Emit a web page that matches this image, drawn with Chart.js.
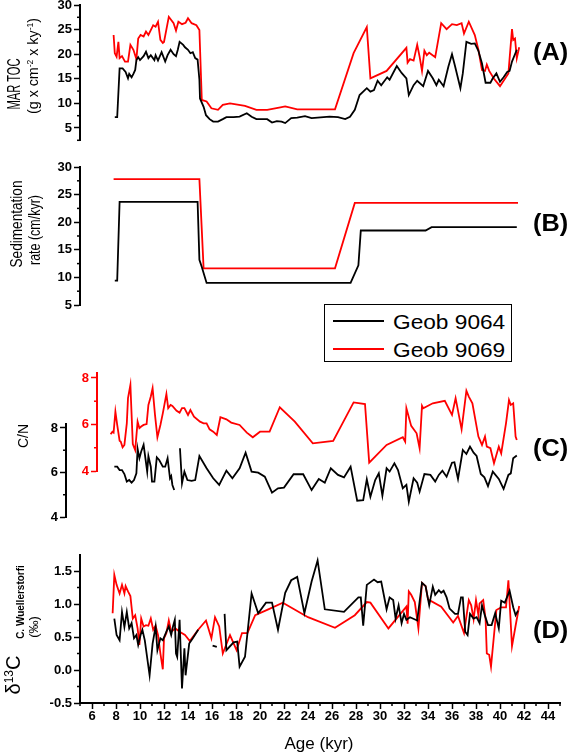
<!DOCTYPE html>
<html>
<head>
<meta charset="utf-8">
<script src="https://cdn.jsdelivr.net/npm/chart.js@4.4.0/dist/chart.umd.min.js"></script>
<style>
body { margin: 0; background: #fff; }
#page { position: relative; width: 567px; height: 752px; overflow: hidden; background: #fff;
        font-family: "Liberation Sans", Arial, sans-serif; color: #000; }
#page canvas { position: absolute; left: 0; top: -30px; }
.vt { position: absolute; white-space: nowrap; line-height: 1;
      transform: translate(-50%, -50%) rotate(-90deg) scaleX(var(--s, 1)); }
.sup { font-size: 0.6em; position: relative; top: -0.6em; }
.tag { position: absolute; font-weight: bold; font-size: 23px; line-height: 1; white-space: nowrap;
       transform: translateY(-50%) scaleX(1.1); transform-origin: left center; }
#legend { position: absolute; left: 324px; top: 304px; width: 188px; height: 58px;
          box-sizing: border-box; border: 1px solid #000; background: #fff; }
.lline { position: absolute; left: 8px; width: 51px; height: 2px; }
.ltext { position: absolute; left: 68px; font-size: 21px; line-height: 1; white-space: nowrap;
         transform: translateY(-50%) scaleX(1.08); transform-origin: left center; }
</style>
</head>
<body>
<div id="page">
  <canvas id="panelA" width="567" height="812"></canvas>
  <canvas id="panelB" width="567" height="812"></canvas>
  <canvas id="panelCblack" width="567" height="812"></canvas>
  <canvas id="panelCred" width="567" height="812"></canvas>
  <canvas id="panelD" width="567" height="812"></canvas>

  <!-- axis titles -->
  <div class="vt" style="left:14px;top:84px;font-size:18px;--s:0.62">MAR TOC</div>
  <div class="vt" style="left:32px;top:66px;font-size:15px;--s:0.95">(g x cm<span class="sup">-2</span> x ky<span class="sup">-1</span>)</div>
  <div class="vt" style="left:16px;top:224px;font-size:17px;--s:0.8">Sedimentation</div>
  <div class="vt" style="left:35px;top:230px;font-size:16px;--s:0.78">rate (cm/kyr)</div>
  <div class="vt" style="left:22px;top:436px;font-size:15px;--s:0.93">C/N</div>
  <div class="vt" style="left:13px;top:675px;font-size:20px">&delta;<span class="sup">13</span>C</div>
  <div class="vt" style="left:21px;top:602px;font-size:10px;font-weight:bold">C. Wuellerstorfi</div>
  <div class="vt" style="left:33px;top:627px;font-size:13px">(&permil;)</div>
  <div style="position:absolute;left:319px;top:743px;font-size:17px;line-height:1;white-space:nowrap;transform:translate(-50%,-50%)">Age (kyr)</div>

  <!-- panel tags -->
  <div class="tag" style="left:533px;top:52px">(A)</div>
  <div class="tag" style="left:533px;top:223px">(B)</div>
  <div class="tag" style="left:533px;top:448px">(C)</div>
  <div class="tag" style="left:533px;top:630px">(D)</div>

  <div id="legend">
    <div class="lline" style="top:15px;background:#000"></div>
    <div class="ltext" style="top:16px">Geob 9064</div>
    <div class="lline" style="top:43px;background:#ff0000"></div>
    <div class="ltext" style="top:44px">Geob 9069</div>
  </div>
</div>

<script>
// age axis (kyr), shared by all panels
var ageMin = 5, ageMax = 45;
var ageTicks = [6, 8, 10, 12, 14, 16, 18, 20, 22, 24, 26, 28, 30, 32, 34, 36, 38, 40, 42, 44];
var ageMinor = [5, 7, 9, 11, 13, 15, 17, 19, 21, 23, 25, 27, 29, 31, 33, 35, 37, 39, 41, 43, 45];

var tocTicks = [5, 10, 15, 20, 25, 30];
var tocMinor = [2.5, 7.5, 12.5, 17.5, 22.5, 27.5];
var sedTicks = [5, 10, 15, 20, 25, 30];
var sedMinor = [7.5, 12.5, 17.5, 22.5, 27.5];
var cnTicks = [4, 6, 8];
var cnMinor = [5, 7];
var d13cTicks = [-0.5, 0, 0.5, 1, 1.5];
var d13cMinor = [-0.25, 0.25, 0.75, 1.25];

// series: [age, value]; null value = gap in the record
var tocBlack = [[7.9,7.2],[8.1,7.2],[8.3,17.1],[8.55,17.1],[8.8,16.4],[9.0,15.1],[9.1,16.0],[9.3,15.3],[9.45,16.0],[9.6,16.8],[9.7,18.8],[9.85,19.4],[10.0,18.8],[10.3,19.6],[10.5,20.5],[10.7,19.2],[10.9,19.8],[11.2,18.8],[11.3,19.8],[11.5,18.7],[11.8,20.4],[12.1,18.5],[12.3,19.8],[12.55,20.9],[12.8,20.0],[13.0,19.6],[13.15,20.9],[13.3,22.5],[13.6,21.9],[13.75,21.4],[14.0,20.9],[14.2,20.2],[14.4,20.4],[14.6,19.2],[14.8,18.9],[14.95,14.8],[15.0,11.0],[15.3,9.3],[15.5,7.6],[15.8,6.8],[16.1,6.3],[16.5,6.3],[16.9,6.8],[17.2,7.2],[17.8,7.2],[18.3,7.3],[18.9,8.0],[19.3,7.3],[19.7,6.8],[20.6,6.8],[21.0,6.1],[21.4,6.4],[21.8,6.3],[22.1,6.0],[22.6,7.0],[23.1,7.1],[23.75,7.4],[24.3,7.0],[25.8,7.3],[26.5,7.2],[27.1,6.8],[27.5,7.3],[27.9,8.7],[28.3,11.7],[28.6,12.4],[28.9,13.1],[29.2,12.4],[29.5,12.7],[29.8,14.6],[30.1,13.7],[30.6,15.3],[30.8,14.8],[31.4,17.6],[31.8,16.2],[32.2,15.1],[32.4,11.7],[32.8,13.7],[33.1,14.6],[33.6,13.5],[34.0,16.6],[34.4,15.1],[34.7,13.7],[34.9,14.8],[35.3,13.5],[35.7,17.5],[36.0,20.0],[36.25,17.6],[36.7,13.1],[36.9,16.1],[37.2,22.5],[37.6,22.1],[37.9,22.2],[38.2,20.7],[38.5,18.1],[38.8,14.2],[39.2,14.2],[39.4,15.1],[39.7,16.1],[40.0,14.4],[40.3,15.3],[40.6,16.4],[40.8,16.6],[41.0,18.5],[41.4,20.9]];
var tocRed = [[7.8,23.9],[7.9,20.2],[8.05,19.5],[8.2,22.5],[8.3,19.2],[8.5,19.6],[8.75,18.5],[9.0,18.5],[9.2,21.9],[9.45,20.9],[9.7,19.0],[9.85,23.2],[10.05,23.9],[10.3,23.6],[10.5,24.6],[10.7,23.9],[10.9,24.9],[11.1,25.9],[11.3,25.6],[11.5,26.6],[11.7,22.9],[11.9,22.3],[12.0,22.5],[12.4,27.6],[12.8,26.3],[13.0,24.8],[13.2,26.6],[13.5,26.1],[13.8,26.4],[14.0,27.3],[14.3,26.3],[14.7,25.9],[14.95,24.9],[15.15,10.7],[15.55,10.4],[15.95,9.0],[16.5,8.7],[16.9,9.7],[17.5,10.0],[18.75,9.5],[19.7,8.7],[20.6,8.7],[21.7,9.2],[22.1,9.4],[23.1,8.8],[26.25,8.8],[27.8,20.2],[28.9,25.5],[29.2,15.1],[30.55,16.6],[32.2,21.3],[32.3,18.3],[32.5,19.0],[32.8,18.7],[33.1,21.9],[33.3,19.5],[33.5,16.6],[33.7,20.7],[33.9,19.8],[34.1,20.3],[34.6,19.4],[35.1,26.3],[35.55,25.1],[36.0,26.1],[36.4,25.9],[36.8,26.3],[37.0,24.2],[37.4,26.6],[37.9,23.9],[38.2,20.9],[38.5,16.8],[38.75,16.6],[38.9,17.9],[39.1,16.6],[39.5,15.0],[40.0,13.5],[40.7,16.1],[41.0,25.1],[41.1,22.9],[41.25,23.2],[41.4,19.2],[41.6,21.4]];

var sedBlack = [[7.9,9.4],[8.1,9.4],[8.3,23.7],[14.8,23.7],[14.95,13.2],[15.15,11.9],[15.55,9.0],[27.55,9.0],[28.2,12.2],[28.4,18.5],[33.8,18.5],[34.3,19.1],[41.4,19.1]];
var sedRed = [[7.8,27.8],[14.95,27.8],[15.3,11.65],[26.25,11.65],[27.9,23.5],[41.5,23.5]];

var cnBlack = [[7.86,6.26],[8.1,6.26],[8.3,6.11],[8.5,6.11],[8.7,5.93],[8.9,5.59],[9.1,5.66],[9.3,5.54],[9.5,5.66],[9.7,5.96],[9.8,7.06],[9.95,6.64],[10.1,6.94],[10.3,7.24],[10.6,6.04],[10.7,6.74],[10.9,6.26],[11.0,5.59],[11.2,5.59],[11.4,6.68],[11.6,6.56],[11.9,6.26],[12.1,6.26],[12.3,6.64],[12.5,5.74],[12.6,5.84],[12.7,5.44],[12.85,5.21],[13.1,null],[13.33,7.09],[13.5,5.51],[13.7,6.04],[13.95,5.66],[14.3,5.62],[14.6,5.66],[14.95,6.74],[15.55,6.19],[16.1,5.74],[16.6,5.44],[17.2,6.08],[17.7,5.74],[18.3,6.19],[18.8,6.89],[19.3,6.04],[19.85,5.99],[20.4,5.81],[21.0,5.09],[21.5,5.29],[22.0,5.32],[22.8,5.92],[23.6,5.92],[24.3,5.21],[24.9,5.71],[25.4,5.54],[25.9,6.19],[26.5,5.89],[27.0,5.78],[27.55,6.26],[28.1,4.73],[28.6,4.76],[28.9,5.69],[29.2,4.91],[29.6,5.66],[29.9,5.96],[30.2,4.96],[30.55,6.19],[30.8,6.04],[31.2,6.41],[31.5,6.11],[31.9,5.29],[32.2,5.44],[32.4,4.69],[32.8,5.74],[33.1,5.54],[33.3,5.14],[33.7,5.93],[34.2,5.89],[34.6,5.59],[34.9,5.89],[35.2,6.08],[35.55,5.81],[36.0,6.44],[36.2,6.46],[36.5,5.71],[36.9,7.01],[37.2,6.83],[37.5,7.16],[37.8,6.89],[38.05,6.74],[38.4,5.93],[38.7,5.78],[39.0,5.39],[39.4,6.04],[39.9,5.71],[40.3,5.26],[40.7,5.89],[40.9,5.96],[41.1,6.64],[41.4,6.76]];
var cnRed = [[7.55,5.58],[7.7,5.69],[7.8,5.65],[7.95,6.55],[8.1,5.98],[8.3,5.30],[8.4,5.26],[8.55,5.02],[8.7,5.12],[8.9,6.05],[9.0,7.13],[9.2,7.70],[9.25,7.05],[9.4,5.16],[9.6,4.90],[9.8,6.12],[9.95,5.84],[10.1,5.91],[10.3,5.98],[10.55,6.02],[10.7,6.84],[10.9,7.20],[11.05,7.56],[11.25,6.41],[11.45,5.45],[11.7,5.98],[11.9,6.48],[12.2,7.31],[12.35,6.70],[12.55,6.84],[12.7,6.80],[13.05,6.59],[13.3,6.51],[13.5,6.70],[13.7,6.70],[14.0,6.41],[14.2,6.62],[14.5,6.34],[15.0,6.12],[15.3,6.05],[15.55,6.05],[15.8,5.79],[16.1,5.69],[16.4,5.55],[16.7,6.31],[17.2,6.22],[17.6,6.08],[18.3,5.98],[18.9,5.65],[19.4,5.45],[20.0,5.69],[20.8,5.69],[21.65,6.74],[22.9,6.12],[24.4,5.19],[26.1,5.29],[27.8,6.95],[28.75,6.88],[29.1,4.36],[30.55,5.12],[31.9,5.45],[32.1,5.26],[32.2,6.70],[32.6,5.94],[33.05,5.62],[33.3,4.98],[33.5,6.80],[33.6,6.70],[34.4,6.91],[35.4,7.02],[36.0,6.41],[36.3,7.13],[36.8,5.79],[37.2,7.45],[37.4,7.20],[37.7,6.91],[38.2,5.48],[38.5,5.12],[38.75,5.48],[38.9,5.05],[39.2,4.98],[39.5,4.33],[39.9,5.05],[40.1,4.76],[40.5,6.05],[40.75,7.05],[40.9,6.84],[41.1,6.91],[41.3,5.48],[41.4,5.33]];

var d13cBlack = [[7.86,0.78],[8.05,0.53],[8.3,0.45],[8.5,0.88],[8.7,0.65],[8.9,0.88],[9.1,0.63],[9.3,0.71],[9.5,0.48],[9.7,0.53],[9.85,0.38],[10.05,0.53],[10.2,0.61],[10.4,0.45],[10.8,-0.08],[11.05,0.40],[11.3,0.66],[11.45,0.30],[11.7,0.48],[11.9,0.45],[12.2,0.58],[12.4,0.66],[12.6,0.53],[12.75,0.66],[12.9,0.76],[13.0,0.25],[13.1,0.20],[13.3,0.76],[13.5,-0.28],[13.7,0.33],[13.8,-0.08],[14.1,0.40],[14.4,0.48],[14.85,0.61],[15.5,null],[16.05,0.37],[16.4,0.35],[16.7,null],[17.05,0.85],[17.2,0.30],[17.8,0.42],[18.1,0.43],[18.3,0.05],[18.75,0.20],[19.3,1.16],[19.85,0.86],[20.5,1.02],[21.0,1.02],[21.5,0.61],[22.1,1.17],[22.6,1.36],[23.1,1.41],[23.7,0.86],[24.3,1.34],[24.8,1.66],[25.4,0.92],[27.0,0.88],[28.2,1.10],[28.4,1.10],[28.6,0.67],[28.9,1.29],[29.5,1.37],[29.8,1.33],[30.1,1.34],[30.55,0.92],[30.8,1.10],[31.1,1.06],[31.3,0.78],[31.55,0.98],[31.8,0.71],[32.0,0.85],[32.2,0.76],[32.5,0.80],[33.1,0.75],[33.5,1.32],[33.8,1.27],[34.1,0.98],[34.4,1.26],[34.6,1.14],[34.9,1.21],[35.1,1.17],[35.3,1.20],[35.55,1.10],[35.8,0.93],[36.25,0.85],[36.5,0.85],[36.75,1.10],[36.9,1.10],[37.1,0.58],[37.3,0.53],[37.5,0.85],[37.8,0.78],[38.05,0.80],[38.3,0.71],[38.5,0.98],[38.75,0.82],[39.0,0.68],[39.3,0.68],[39.6,0.86],[39.9,0.63],[40.1,1.05],[40.4,1.02],[40.8,1.20],[41.1,0.95],[41.3,0.83],[41.5,0.90]];
var d13cRed = [[7.72,0.86],[7.86,1.44],[8.05,1.29],[8.3,1.16],[8.5,1.29],[8.7,1.16],[8.8,1.27],[9.0,1.19],[9.2,1.12],[9.4,0.78],[9.6,0.83],[9.8,0.63],[9.95,0.38],[10.1,0.78],[10.3,0.66],[10.5,0.68],[10.7,0.67],[10.9,0.78],[11.1,0.61],[11.3,0.67],[11.5,0.53],[11.7,0.25],[11.9,0.01],[12.0,0.48],[12.2,0.56],[12.4,0.75],[12.6,0.58],[12.95,0.63],[13.3,0.58],[13.75,0.53],[14.15,0.44],[14.85,0.61],[15.5,0.75],[15.95,0.48],[16.25,0.80],[16.6,0.66],[16.9,0.25],[17.5,0.53],[18.05,0.30],[18.5,0.56],[18.95,0.56],[19.6,0.83],[20.6,0.91],[21.9,1.02],[24.0,0.80],[26.25,0.64],[27.9,0.83],[28.9,1.03],[29.2,1.02],[30.7,0.63],[32.2,0.96],[32.3,0.70],[32.4,1.19],[32.6,1.14],[32.9,1.03],[33.2,0.63],[33.5,1.32],[33.8,1.27],[34.0,1.07],[35.1,0.96],[36.1,0.72],[36.5,0.82],[37.0,0.56],[37.4,1.06],[37.6,0.98],[37.8,0.77],[38.0,1.06],[38.2,0.83],[38.3,1.01],[38.6,1.06],[38.8,0.77],[38.9,0.25],[39.1,0.23],[39.25,0.05],[39.7,0.91],[40.1,0.95],[40.5,0.95],[40.7,1.36],[41.0,0.36],[41.3,0.67],[41.6,0.97]];

var BLACK = '#000000', RED = '#ff0000';
var OFF = 30;                 // canvases start 30px above the page
var CANVAS_H = 752 + 2 * OFF;
var PX_PER_KYR = 12;
var PLOT_RIGHT = 560;         // pixel of age 45 on the page
var tickFont = { family: 'Liberation Sans', size: 13, weight: 'bold' };

// short minor ticks, the library only draws one tick length
function minorTicks(list) {
    return {
        id: 'minorTicks',
        afterDraw: function (chart) {
            var ctx = chart.ctx;
            list.forEach(function (m) {
                var s = chart.scales[m.axis];
                ctx.save();
                ctx.strokeStyle = m.color;
                ctx.lineWidth = 1.5;
                m.values.forEach(function (v) {
                    var p = s.getPixelForValue(v);
                    ctx.beginPath();
                    if (m.axis === 'y') { ctx.moveTo(s.right - 3, p); ctx.lineTo(s.right, p); }
                    else { ctx.moveTo(p, s.top); ctx.lineTo(p, s.top + 3); }
                    ctx.stroke();
                });
                ctx.restore();
            });
        }
    };
}

function toPoints(pts) {
    return pts.map(function (d) { return { x: d[0], y: d[1] }; });
}

// one panel: top/bottom are page pixels of yMax/yMin, axisX is where the y axis sits
function panel(id, p) {
    var xLow = ageMax - (PLOT_RIGHT - p.axisX) / PX_PER_KYR;
    var xh = p.showAge ? 40 : 0;
    var color = p.axisColor || BLACK;
    var minors = [{ axis: 'y', values: p.yMinor, color: color }];
    if (p.showAge) minors.push({ axis: 'x', values: ageMinor, color: BLACK });

    return new Chart(document.getElementById(id), {
        type: 'line',
        data: {
            datasets: p.series.map(function (s) {
                return {
                    data: toPoints(s.pts),
                    borderColor: s.color,
                    borderWidth: 1.8,
                    pointRadius: 0,
                    fill: false,
                    tension: 0,
                    spanGaps: false
                };
            })
        },
        options: {
            responsive: false,
            animation: false,
            devicePixelRatio: 1,
            layout: {
                padding: { left: 0, right: 567 - PLOT_RIGHT, top: p.top + OFF, bottom: CANVAS_H - p.bottom - OFF - xh }
            },
            plugins: { legend: { display: false }, tooltip: { enabled: false } },
            scales: {
                x: {
                    type: 'linear',
                    min: xLow,
                    max: ageMax,
                    display: !!p.showAge,
                    afterFit: function (s) { s.height = xh; },
                    afterBuildTicks: function (s) { s.ticks = ageTicks.map(function (v) { return { value: v }; }); },
                    border: { display: true, color: BLACK, width: 2 },
                    grid: { drawOnChartArea: false, drawTicks: true, tickLength: 6, tickColor: BLACK, tickWidth: 1.5 },
                    ticks: { autoSkip: false, maxRotation: 0, padding: 0, color: BLACK, font: tickFont }
                },
                y: {
                    type: 'linear',
                    min: p.yMin,
                    max: p.yMax,
                    afterFit: function (s) { s.width = p.axisX; },
                    afterBuildTicks: function (s) { s.ticks = p.yTicks.map(function (v) { return { value: v }; }); },
                    border: { display: true, color: color, width: 2 },
                    grid: { drawOnChartArea: false, drawTicks: true, tickLength: 6, tickColor: color, tickWidth: 1.5 },
                    ticks: {
                        autoSkip: false, padding: 2, color: color, font: tickFont,
                        callback: function (v) { return p.fmt ? p.fmt(v) : String(v); }
                    }
                }
            }
        },
        plugins: [minorTicks(minors)]
    });
}

panel('panelA', {
    series: [{ pts: tocBlack, color: BLACK }, { pts: tocRed, color: RED }],
    yMin: 2.5, yMax: 30, yTicks: tocTicks, yMinor: tocMinor,
    top: 5, bottom: 140.3, axisX: 80
});

panel('panelB', {
    series: [{ pts: sedBlack, color: BLACK }, { pts: sedRed, color: RED }],
    yMin: 5, yMax: 30, yTicks: sedTicks, yMinor: sedMinor,
    top: 167, bottom: 305, axisX: 80
});

panel('panelCblack', {
    series: [{ pts: cnBlack, color: BLACK }],
    yMin: 4, yMax: 8.2, yTicks: cnTicks, yMinor: cnMinor,
    top: 423.5, bottom: 517, axisX: 66
});

panel('panelCred', {
    series: [{ pts: cnRed, color: RED }],
    yMin: 4, yMax: 8.2, yTicks: cnTicks, yMinor: cnMinor,
    top: 373.3, bottom: 471, axisX: 97, axisColor: RED
});

panel('panelD', {
    series: [{ pts: d13cBlack, color: BLACK }, { pts: d13cRed, color: RED }],
    yMin: -0.5, yMax: 1.75, yTicks: d13cTicks, yMinor: d13cMinor,
    top: 554.5, bottom: 703, axisX: 80, showAge: true,
    fmt: function (v) { return v.toFixed(1); }
});
</script>
</body>
</html>
